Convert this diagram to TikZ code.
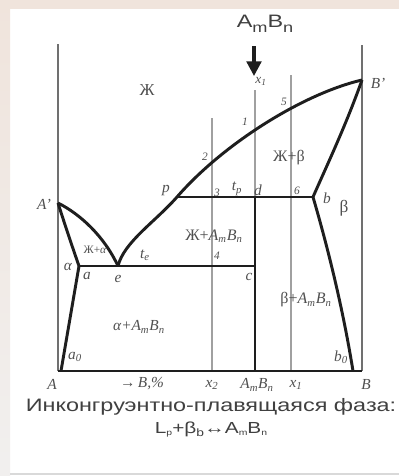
\documentclass[tikz,border=0pt]{standalone}
\usepackage{fontspec}
\setmainfont{Liberation Serif}
\newfontfamily\sansf{Liberation Sans}
\usetikzlibrary{arrows.meta}
\definecolor{bandtop}{HTML}{F0E4DC}
\definecolor{bandleft}{HTML}{E4DEDA}
\definecolor{thinline}{HTML}{A0A0A0}
\definecolor{axisgray}{HTML}{707070}
\definecolor{ink}{HTML}{1E1E1E}
\definecolor{lbl}{HTML}{505050}
\newcommand{\sbm}[1]{\textsubscript{#1}}
\newcommand{\lowsub}[1]{\raisebox{-0.32em}{\fontsize{10.5}{11}\selectfont #1}}
\begin{document}
\begin{tikzpicture}[x=0.75pt,y=-0.75pt,
  thick line/.style={draw=ink,line width=2.2pt,line join=round},
  thin line/.style={draw=thinline,line width=1.1pt},
  axis line/.style={draw=axisgray,line width=1.9pt},
  lab/.style={text=lbl,font=\itshape\fontsize{11.5}{12}\selectfont,inner sep=0pt},
  rlab/.style={text=lbl,font=\fontsize{12}{12}\selectfont,inner sep=0pt},
  dig/.style={text=lbl,font=\itshape\fontsize{8.5}{9}\selectfont,inner sep=0pt},
  captext/.style={text=ink!85,font=\sansf\fontsize{13.5}{15}\selectfont,inner sep=0pt,xscale=1.3}]
\useasboundingbox (0,0) rectangle (399,476);
% background frame
\fill[white] (0,0) rectangle (399,476);
\fill[top color=bandtop,bottom color=bandleft!80!gray!30] (0,0) rectangle (10,476);
\fill[bandtop] (0,0) rectangle (399,9);
\draw[draw=black!15,line width=0.8pt] (10,474) -- (399,474);
% key points
\coordinate (A) at (58,371);
\coordinate (B) at (362,371);
\coordinate (Atop) at (58,44);
\coordinate (Btop) at (362,45);
\coordinate (Ap) at (58,203);
\coordinate (Bp) at (362,80);
\coordinate (e) at (118,266);
\coordinate (a) at (79,266);
\coordinate (a0) at (61,371);
\coordinate (p) at (177,197);
\coordinate (d) at (255,197);
\coordinate (b) at (313,197);
\coordinate (c) at (255,266);
\coordinate (m) at (255,371);
\coordinate (b0) at (353,371);
\coordinate (mtop) at (255,90);
\coordinate (xtwo) at (212,371);
\coordinate (xtwotop) at (212,118);
\coordinate (xone) at (291,371);
\coordinate (xonetop) at (291,75);
% thin vertical lines
\draw[thin line] (xtwotop) -- (xtwo);
\draw[thin line] (xonetop) -- (xone);
\draw[thin line] (mtop) -- (d);
% axes
\draw[axis line] (Atop) -- (A);
\draw[axis line] (Btop) -- (B);
\draw[thick line] (A) -- (B);
% liquidus
\draw[thick line] (Ap) .. controls (80,214) and (104,236) .. (e);
\draw[thick line] (e) .. controls (124,242) and (155,222) .. (p)
                      .. controls (222,145) and (302,94) .. (Bp);
% solidus / solvus
\draw[thick line] (Ap) .. controls (64,222) and (72,246) .. (a);
\draw[thick line] (a) -- (a0);
\draw[thick line] (a) -- (c);
\draw[thick line] (p) -- (b);
\draw[thick line] (d) -- (m);
\draw[thick line] (b) .. controls (328,163) and (346,125) .. (Bp);
\draw[thick line] (b) .. controls (330,255) and (344,315) .. (b0);
% arrow
\draw[draw=ink,line width=2.4pt,-{Triangle[length=11pt,width=11pt]}] (254,46) -- (254,76);
\node[text=ink!85,font=\sansf\fontsize{13.5}{15}\selectfont,inner sep=0pt,xscale=1.3,anchor=base] (title) at (265,27) {A\lowsub{m}B\lowsub{n}};
% labels
\node[rlab,font=\fontsize{12.5}{13}\selectfont] (zh) at (147,90) {Ж};
\node[lab,font=\itshape\fontsize{10}{10}\selectfont] (lx1) at (261,81) {x\sbm{1}};
\node[dig] (l1) at (245,122) {1};
\node[dig] (l5) at (284,102) {5};
\node[dig] (l2) at (205,157) {2};
\node[rlab] (zhb) at (289,158) {Ж+β};
\node[lab] (lp) at (166,191) {p};
\node[dig] (l3) at (217,193) {3};
\node[lab] (ltp) at (237,189) {t\sbm{p}};
\node[lab] (ld) at (258,190) {d};
\node[dig] (l6) at (297,191) {6};
\node[lab] (lBp) at (378,83) {B'};
\node[lab] (lb) at (327,198) {b};
\node[rlab,font=\fontsize{13}{13}\selectfont] (lbeta) at (344,208) {β};
\node[lab] (lAp) at (44,204) {A'};
\node[rlab,font=\fontsize{8.5}{9}\selectfont] (zha) at (95,250) {Ж+\textit{α}};
\node[rlab] (zhab) at (214,236) {Ж+\textit{A\sbm{m}B\sbm{n}}};
\node[dig] (l4) at (217,256) {4};
\node[lab] (lte) at (145,255) {t\sbm{e}};
\node[lab] (lc) at (249,277) {c};
\node[lab] (lalpha) at (68,267) {α};
\node[lab] (la) at (87,276) {a};
\node[lab] (le) at (118,279) {e};
\node[lab] (lab1) at (139,327) {α+A\sbm{m}B\sbm{n}};
\node[lab] (la0) at (75,357) {a\sbm{0}};
\node[rlab] (lbab) at (306,300) {β+\textit{A\sbm{m}B\sbm{n}}};
\node[lab] (lb0) at (341,357) {b\sbm{0}};
% bottom axis labels
\node[lab] (lA) at (52,384) {A};
\node[lab] (lBpct) at (142,384) {\upshape→\itshape\,B,\%};
\node[lab] (lx2) at (212,385) {x\sbm{2}};
\node[lab] (lm) at (257,385) {A\sbm{m}B\sbm{n}};
\node[lab] (lx1b) at (296,385) {x\sbm{1}};
\node[lab] (lB) at (366,384) {B};
% caption
\node[captext] (c1) at (211,407) {Инконгруэнтно-плавящаяся фаза:};
\node[captext,font=\sansf\fontsize{12}{14}\selectfont] (c2) at (211,430) {L{\fontsize{6}{6}\selectfont\raisebox{-0.25em}{p}}+β{\fontsize{8}{8}\selectfont\raisebox{-0.25em}{b}}↔A{\fontsize{6}{6}\selectfont\raisebox{-0.25em}{m}}B{\fontsize{6}{6}\selectfont\raisebox{-0.25em}{n}}};
\end{tikzpicture}
\end{document}
